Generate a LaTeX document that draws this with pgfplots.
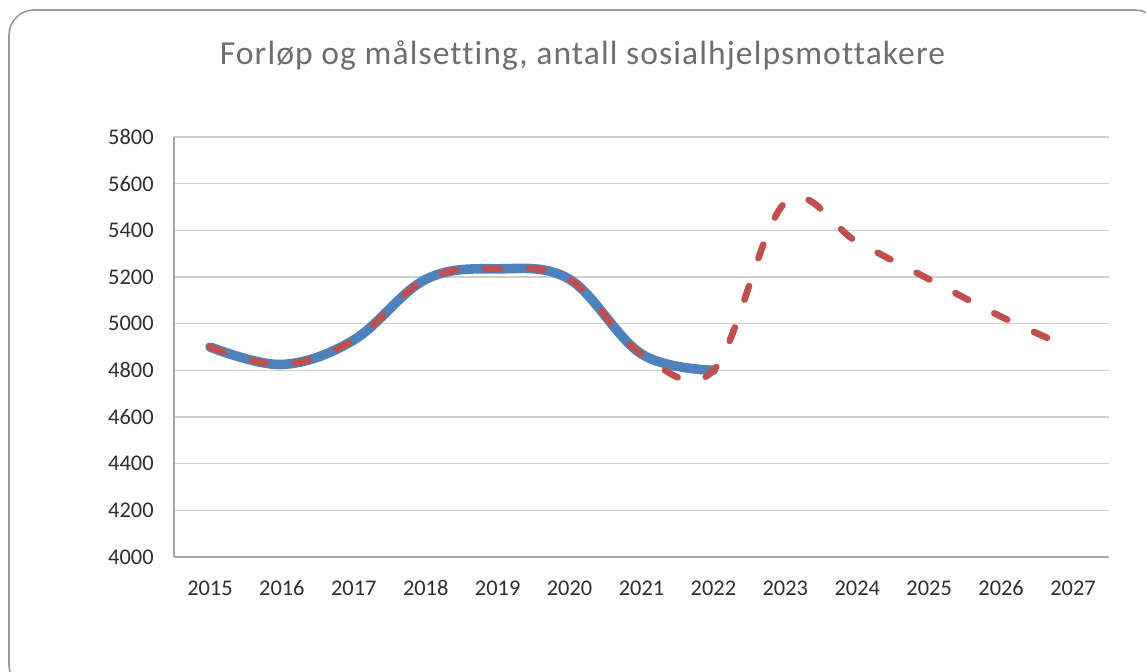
\documentclass[border=0pt]{standalone}
\usepackage{pgfplots}
\pgfplotsset{compat=1.18}
\usepackage{fontspec}
\setmainfont{Carlito}[Ligatures=NoCommon]
\newfontfamily\titlefont{Carlito}[Ligatures=NoCommon, LetterSpace=3.2]
\definecolor{blueline}{HTML}{4F81BD}
\definecolor{redline}{HTML}{C0504D}
\definecolor{gridgray}{HTML}{D0D0D0}
\definecolor{axisgray}{HTML}{A8A8A8}
\definecolor{framegray}{HTML}{9A9A9A}
\definecolor{titlegray}{HTML}{6E6E6E}
\definecolor{labelgray}{HTML}{2E2E2E}
\begin{document}
\begin{tikzpicture}
\path[use as bounding box] (0,0) rectangle (573pt,-336pt);
\begin{scope}
  \clip (0,0) rectangle (573pt,-336pt);
  \draw[framegray, line width=0.8pt, rounded corners=12.5pt]
    (4.5pt,-5pt) rectangle (580pt,-345pt);
\end{scope}
\node[anchor=base, text=titlegray, inner sep=0pt,
      font=\titlefont\fontsize{16.8}{20}\selectfont] at (291.3pt,-32.5pt)
  {Forløp og målsetting, antall sosialhjelpsmottakere};
\begin{axis}[
  at={(87pt,-68.5pt)}, anchor=north west,
  scale only axis, width=467.5pt, height=210pt,
  xmin=2014.5, xmax=2027.5,
  ymin=4000, ymax=5800,
  xtick={2015,2016,...,2027},
  ytick={4000,4200,...,5800},
  xticklabel style={/pgf/number format/1000 sep={}},
  yticklabel style={/pgf/number format/1000 sep={}},
  /pgf/number format/assume math mode=true,
  axis x line=bottom, axis y line=left,
  axis line style={-, draw=axisgray, line width=0.6pt},
  major tick length=0pt,
  ymajorgrids,
  grid style={draw=gridgray, line width=0.6pt},
  tick label style={text=labelgray, font=\fontsize{11.2}{13}\selectfont, inner sep=0pt},
  xticklabel style={anchor=base, yshift=-19.2pt},
  yticklabel style={anchor=east, xshift=-10pt},
  clip=false,
]
% faktisk forlop
\addplot[blueline, line width=4.8pt, line cap=round, smooth, tension=0.6]
  coordinates {(2015,4900)(2016,4825)(2017,4930)(2018,5190)(2019,5235)
               (2020,5190)(2021,4870)(2022,4800)};
% malsetting
\addplot[redline, line width=3.3pt, line cap=round, smooth, tension=0.6,
         dash pattern=on 7.2pt off 14.7pt]
  coordinates {(2015,4900)(2016,4825)(2017,4930)(2018,5190)(2019,5235)
               (2020,5190)(2021,4870)(2022,4800)(2023,5520)(2024,5350)
               (2025,5190)(2026,5030)(2027,4890)};
\end{axis}
\end{tikzpicture}
\end{document}
